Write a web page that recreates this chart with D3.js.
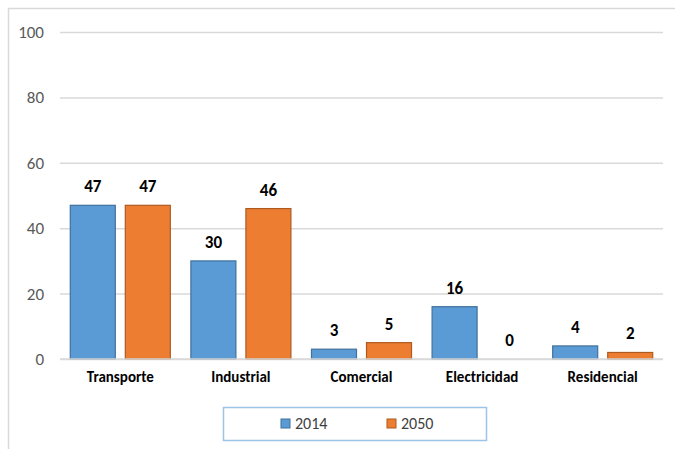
<!DOCTYPE html>
<html><head><meta charset="utf-8">
<script src="https://cdn.jsdelivr.net/npm/d3@7"></script>
<style>body{margin:0;background:#fff;}svg{display:block;font-family:Carlito,Calibri,"Liberation Sans",Arial,sans-serif;}</style>
</head><body>
<svg id="c" width="675" height="449"></svg>
<script>
const categories = ["Transporte","Industrial","Comercial","Electricidad","Residencial"];
const seriesNames = ["2014","2050"];
const values2014 = [47,30,3,16,4];
const values2050 = [47,46,5,0,2];
const yTicks = [0,20,40,60,80,100];
const fills = ["#5b9bd5","#ed7d31"];
const strokes = ["#41719c","#ae5a21"];
const FONT = "Carlito,Calibri,'Liberation Sans',sans-serif";

const svg = d3.select("#c");
svg.append("rect").attr("x",8.5).attr("y",8.5).attr("width",700).attr("height",500)
  .attr("fill","none").attr("stroke","#d9d9d9").attr("stroke-width",1.5);

const m = {l:60, r:663, t:32, b:359};
const x = d3.scaleBand().domain(categories).range([m.l,m.r]).paddingInner(0).paddingOuter(0);
const y = d3.scaleLinear().domain([0,100]).range([m.b,m.t]);
const xs = d3.scaleBand().domain(seriesNames).range([0,x.bandwidth()]).paddingInner(0.182).paddingOuter(0.187);

const yAxis = d3.axisLeft(y).tickValues(yTicks).tickSize(-(m.r-m.l)).tickPadding(16);
const ga = svg.append("g").attr("transform",`translate(${m.l},0)`).call(yAxis);
ga.select(".domain").remove();
ga.selectAll(".tick line").attr("stroke","#d9d9d9").attr("stroke-width",1.5);
ga.selectAll(".tick text").attr("fill","#595959").style("font-size","17px").style("font-family",FONT);

const data = categories.map((c,i)=>({c, v:[values2014[i],values2050[i]]}));
const g = svg.append("g");
data.forEach(d=>{
  d.v.forEach((v,j)=>{
    const bx = x(d.c)+xs(seriesNames[j]);
    if(v>0){
      g.append("rect").attr("x",bx).attr("y",y(v)).attr("width",xs.bandwidth()).attr("height",y(0)-y(v))
        .attr("fill",fills[j]).attr("stroke",strokes[j]).attr("stroke-width",1.2);
    }
    g.append("text").attr("x",bx+xs.bandwidth()/2).attr("y",y(v)-13).attr("text-anchor","middle")
      .attr("font-weight","bold").attr("font-size","17px").attr("fill","#000").text(v);
  });
});
svg.append("line").attr("x1",m.l).attr("x2",m.r).attr("y1",y(0)).attr("y2",y(0)).attr("stroke","#d9d9d9").attr("stroke-width",1.5);

const xAxis = d3.axisBottom(x).tickSize(0).tickPadding(12);
const gx = svg.append("g").attr("transform",`translate(0,${m.b})`).call(xAxis);
gx.select(".domain").remove();
gx.selectAll(".tick text").attr("fill","#000").attr("font-weight","bold").style("font-size","15px").style("font-family",FONT);

const lg = svg.append("g");
lg.append("rect").attr("x",223.5).attr("y",407.5).attr("width",263).attr("height",33)
  .attr("fill","#fff").attr("stroke","#9dc3e6").attr("stroke-width",1.5);
const lx = [281,387];
seriesNames.forEach((s,j)=>{
  lg.append("rect").attr("x",lx[j]).attr("y",419).attr("width",9).attr("height",9)
    .attr("fill",fills[j]).attr("stroke",strokes[j]).attr("stroke-width",1);
  lg.append("text").attr("x",lx[j]+14).attr("y",429).attr("font-size","16px").attr("fill","#404040").text(s);
});
</script>
</body></html>
